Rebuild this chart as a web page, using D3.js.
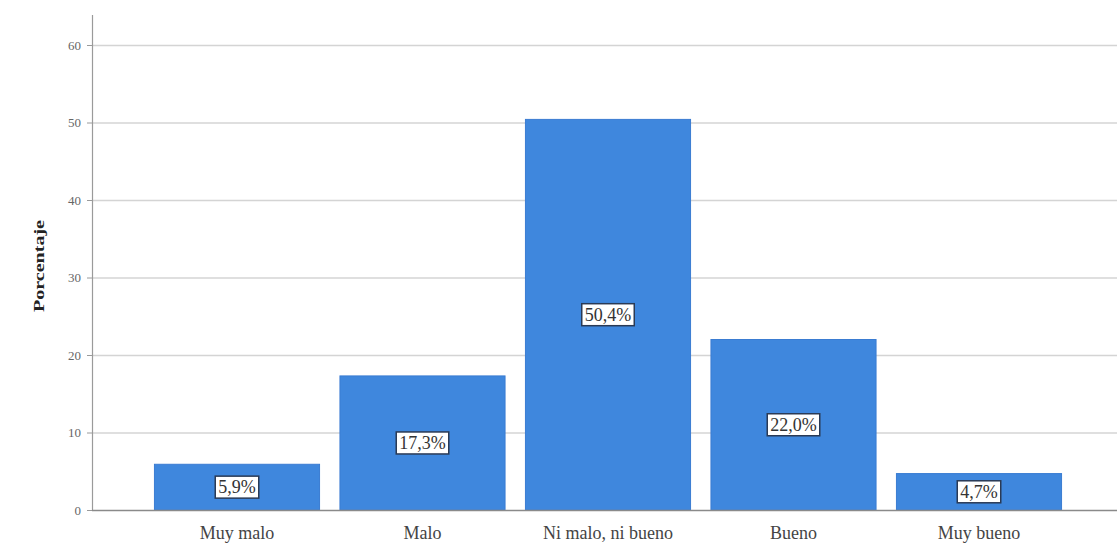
<!DOCTYPE html>
<html>
<head>
<meta charset="utf-8">
<script src="https://cdn.jsdelivr.net/npm/d3@7"></script>
<style>
html,body{margin:0;padding:0;background:#fff;}
svg{display:block;}
</style>
</head>
<body>
<svg id="chart" width="1117" height="546"></svg>
<script>
const categories = ["Muy malo", "Malo", "Ni malo, ni bueno", "Bueno", "Muy bueno"];
const values = [5.9, 17.3, 50.4, 22.0, 4.7];
const valueLabels = ["5,9%", "17,3%", "50,4%", "22,0%", "4,7%"];
const yTicks = [0, 10, 20, 30, 40, 50, 60];
const yTitle = "Porcentaje";

const svg = d3.select("#chart");
const W = 1117, H = 546;
const axisX = 92, plotRight = 1117, plotTop = 15, y0 = 510;

const y = d3.scaleLinear().domain([0, 60]).range([y0, 45]);
const x = d3.scaleBand().domain(categories)
  .range([144.25, 1071.75]).paddingInner(0.11).paddingOuter(0.055);

// gridlines
svg.append("g").selectAll("line").data(yTicks.filter(d => d > 0)).join("line")
  .attr("x1", axisX).attr("x2", plotRight)
  .attr("y1", d => y(d) + 0.5).attr("y2", d => y(d) + 0.5)
  .attr("stroke", "#d4d4d4").attr("stroke-width", 1.5);

// bars
svg.append("g").selectAll("rect").data(values).join("rect")
  .attr("x", (d, i) => x(categories[i]))
  .attr("y", d => y(d))
  .attr("width", x.bandwidth())
  .attr("height", d => y0 - y(d))
  .attr("fill", "#3f87dd")
  .attr("stroke", "#3a7cd2").attr("stroke-width", 1);

// y axis
const yAxis = d3.axisLeft(y).tickValues(yTicks).tickSize(5).tickPadding(6);
const gy = svg.append("g").attr("transform", `translate(${axisX},0)`).call(yAxis);
gy.select(".domain").remove();
gy.selectAll(".tick line").attr("stroke", "#9a9a9a");
gy.selectAll(".tick text").attr("fill", "#666").attr("font-family", "Liberation Serif, serif").attr("font-size", 13);
svg.append("line").attr("x1", axisX + 0.5).attr("x2", axisX + 0.5).attr("y1", plotTop).attr("y2", y0)
  .attr("stroke", "#9a9a9a").attr("stroke-width", 1.2);

// x axis
const xAxis = d3.axisBottom(x).tickSize(0).tickPadding(16);
const gx = svg.append("g").attr("transform", `translate(0,${y0})`).call(xAxis);
gx.select(".domain").remove();
svg.append("line").attr("x1", axisX).attr("x2", plotRight).attr("y1", y0 + 0.5).attr("y2", y0 + 0.5)
  .attr("stroke", "#8a8a8a").attr("stroke-width", 1.5);
gx.selectAll(".tick text").attr("fill", "#444").attr("font-family", "Liberation Serif, serif").attr("font-size", 18);

// y title
svg.append("text").attr("transform", "translate(44,266) rotate(-90)")
  .attr("text-anchor", "middle").attr("font-family", "Liberation Serif, serif")
  .attr("font-weight", "bold").attr("font-size", 14).attr("fill", "#222")
  .attr("textLength", 92).attr("lengthAdjust", "spacingAndGlyphs")
  .text(yTitle);

// value labels
const lg = svg.append("g");
values.forEach((v, i) => {
  const cx = x(categories[i]) + x.bandwidth() / 2;
  const cy = y(v / 2);
  const g = lg.append("g");
  const t = g.append("text").attr("x", cx).attr("y", cy + 6)
    .attr("text-anchor", "middle").attr("font-family", "Liberation Serif, serif")
    .attr("font-size", 18).attr("fill", "#333").text(valueLabels[i]);
  const bb = t.node().getBBox();
  g.insert("rect", "text").attr("x", cx - bb.width / 2 - 3).attr("y", cy - 11)
    .attr("width", bb.width + 6).attr("height", 22)
    .attr("fill", "#fff").attr("stroke", "#2a3a55").attr("stroke-width", 1.5);
});
</script>
</body>
</html>
